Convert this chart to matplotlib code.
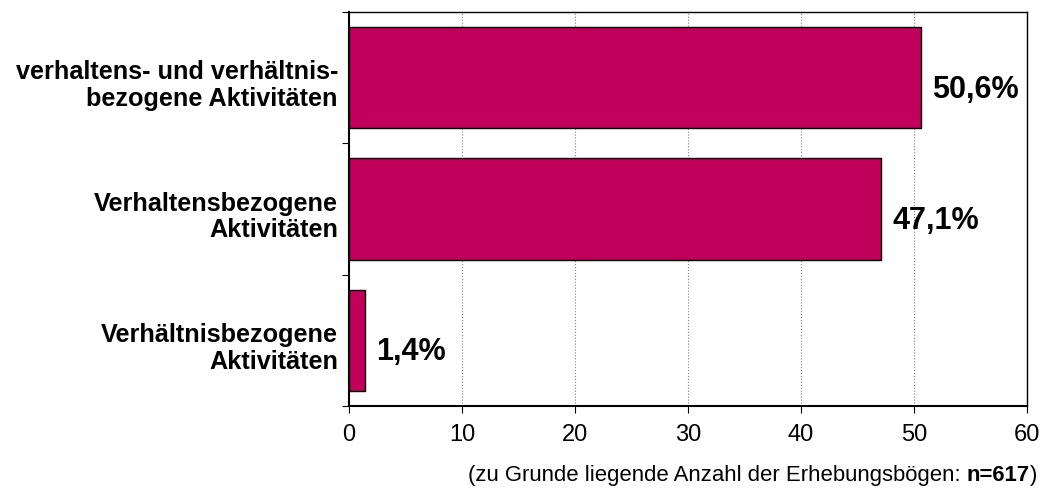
import matplotlib.pyplot as plt

# Daten
kategorien = ['verhaltens- und verhältnis-\nbezogene Aktivitäten',
              'Verhaltensbezogene\nAktivitäten',
              'Verhältnisbezogene\nAktivitäten']
werte = [50.6, 47.1, 1.4]
wert_labels = ['50,6%', '47,1%', '1,4%']
x_ticks = [0, 10, 20, 30, 40, 50, 60]

plt.rcParams['font.family'] = ['Liberation Sans', 'DejaVu Sans']

fig = plt.figure(figsize=(10.45, 4.89), dpi=100)
ax = fig.add_axes([349 / 1045, 1 - 407 / 489, (1027 - 349) / 1045, (407 - 13) / 489])

pos = [2, 1, 0]
ax.barh(pos, werte, height=0.77, color='#c0005a', edgecolor='black', linewidth=1, zorder=3)

for p, w, lab in zip(pos, werte, wert_labels):
    ax.annotate(lab, xy=(w, p), xytext=(8, -8), textcoords='offset points',
                ha='left', va='center', fontsize=22, fontweight='bold')

ax.set_xlim(0, 60)
ax.set_ylim(-0.5, 2.5)
ax.set_xticks(x_ticks)
ax.set_xticklabels([str(t) for t in x_ticks], fontsize=17)
ax.tick_params(axis='x', length=5, pad=7, direction='out')

ax.set_yticks([-0.5, 0.5, 1.5, 2.5])
ax.set_yticklabels([])
ax.tick_params(axis='y', length=5, direction='out')
for p, k in zip(pos, kategorien):
    ax.annotate(k, xy=(0, p), xycoords=ax.get_yaxis_transform(), xytext=(-8, -5),
                textcoords='offset points', ha='right', va='center',
                fontsize=18.2, fontweight='bold', multialignment='right', linespacing=1.15)

ax.grid(axis='x', color='gray', linestyle=':', linewidth=0.8, zorder=0)
ax.spines['left'].set_linewidth(1.5)
ax.spines['bottom'].set_linewidth(1.5)
ax.spines['top'].set_linewidth(1)
ax.spines['right'].set_linewidth(1)

# Fußnote
t1 = fig.text(468 / 1045, 1 - 481 / 489, '(zu Grunde liegende Anzahl der Erhebungsbögen: ',
              fontsize=15.9, ha='left', va='baseline')
t2 = ax.annotate('n=617', xy=(1, 0), xycoords=t1, fontsize=15.9, fontweight='bold',
                 ha='left', va='bottom', annotation_clip=False)
ax.annotate(')', xy=(1, 0), xycoords=t2, fontsize=15.9, ha='left', va='bottom',
            annotation_clip=False)

plt.savefig('out.png', dpi=100)
